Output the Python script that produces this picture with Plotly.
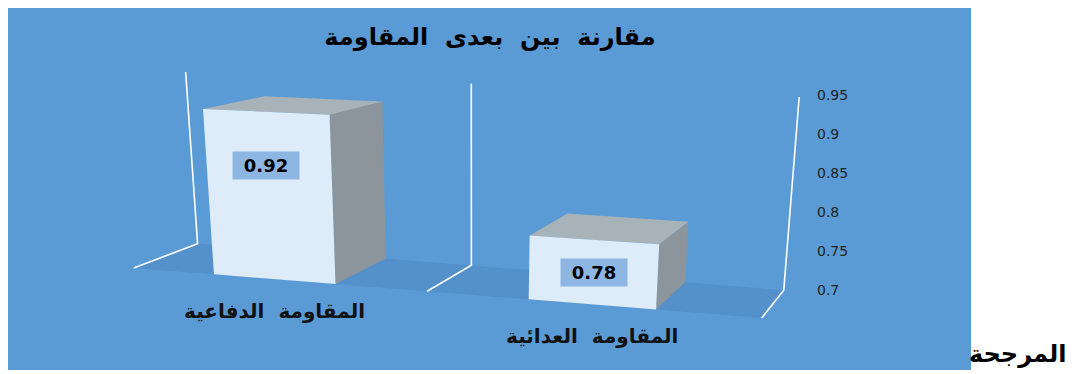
import plotly.graph_objects as go

# ---------------- data ----------------
categories = ["المقاومة الدفاعية", "المقاومة العدائية"]
values = [0.92, 0.78]
tick_values = [0.7, 0.75, 0.8, 0.85, 0.9, 0.95]
title_text = "مقارنة بين بعدى المقاومة"
side_note = "المرجحة"

# ---------------- style / perspective constants ----------------
AXIS_MIN, AXIS_MAX = 0.7, 0.95
X_RANGE = [-0.8418, 1.6646]
Y_RANGE = [0.59744, 1.06154]
FLOOR_Y0, FLOOR_SLOPE = 0.71395, -0.03241
G0, G1 = 0.975, 0.06
VP = (2.4114, 1.1597)
DEPTH = 0.072
KV, XC = 0.2, 0.62
BAR_W = 0.39
BOUNDS = [-0.44, 0.478, 1.538]

BG = "#5B9BD5"
FLOOR = "#5490C9"
FRONT = "#DEEBF8"
TOP = "#A8B2B9"
SIDE = "#8C959C"
LABEL_BG = "#8DB6E3"
FONT = "DejaVu Sans"
NB = "\u00a0"


def spaced(s, n=2):
    return s.replace(" ", NB * n)


def base(x):
    return FLOOR_Y0 + FLOOR_SLOPE * x


def g(x):
    return G0 + G1 * x


def proj(x, v, d):
    X = x
    Y = base(x) + g(x) * (v - AXIS_MIN)
    X += d * DEPTH * (VP[0] - X)
    Y += d * DEPTH * (VP[1] - Y)
    X += KV * (X - XC) * (Y - AXIS_MIN)
    return X, Y


def poly(points, color):
    xs = [p[0] for p in points] + [points[0][0]]
    ys = [p[1] for p in points] + [points[0][1]]
    return go.Scatter(x=xs, y=ys, mode="lines", fill="toself", fillcolor=color,
                      line=dict(width=0, color=color), hoverinfo="skip", showlegend=False)


fig = go.Figure()

# floor
fig.add_trace(poly([proj(BOUNDS[0], AXIS_MIN, 0), proj(BOUNDS[-1], AXIS_MIN, 0),
                    proj(BOUNDS[-1], AXIS_MIN, 1), proj(BOUNDS[0], AXIS_MIN, 1)], FLOOR))

# wall / depth lines
for b in BOUNDS:
    pts = [proj(b, AXIS_MIN, 0), proj(b, AXIS_MIN, 1), proj(b, AXIS_MAX, 1)]
    fig.add_trace(go.Scatter(x=[p[0] for p in pts], y=[p[1] for p in pts], mode="lines",
                             line=dict(color="white", width=1.6), hoverinfo="skip",
                             showlegend=False))

annotations = []
for i, (cat, v) in enumerate(zip(categories, values)):
    c = float(i)
    hw = BAR_W * g(c) / 2
    xl, xr = c - hw, c + hw
    fig.add_trace(poly([proj(xr, AXIS_MIN, 0), proj(xr, AXIS_MIN, 1),
                        proj(xr, v, 1), proj(xr, v, 0)], SIDE))
    fig.add_trace(poly([proj(xl, v, 0), proj(xr, v, 0),
                        proj(xr, v, 1), proj(xl, v, 1)], TOP))
    fig.add_trace(poly([proj(xl, AXIS_MIN, 0), proj(xr, AXIS_MIN, 0),
                        proj(xr, v, 0), proj(xl, v, 0)], FRONT))
    bottom = proj(c, AXIS_MIN, 0)
    top = proj(c, v, 0)
    ly = max((bottom[1] + top[1]) / 2, top[1] - 0.0685)
    annotations.append(dict(x=top[0], y=ly, xref="x", yref="y", text=f"{v:.2f}",
                            showarrow=False, bgcolor=LABEL_BG, width=64, height=25,
                            font=dict(family=FONT, size=18, color="black", weight="bold")))
    annotations.append(dict(x=bottom[0], y=base(c) - 0.041, xref="x", yref="y",
                            text=spaced(cat), showarrow=False,
                            font=dict(family=FONT, size=20, color="#111111", weight="bold")))

annotations.append(dict(x=1.3317, y=0.045, xref="paper", yref="paper", xanchor="right",
                        yanchor="middle", text=side_note, showarrow=False,
                        font=dict(family=FONT, size=24, color="black", weight="bold")))

fig.update_layout(
    width=1065, height=366,
    margin=dict(l=0, r=269, t=0, b=4),
    paper_bgcolor="white",
    plot_bgcolor=BG,
    showlegend=False,
    title=dict(text=spaced(title_text), x=0.4526, y=0.921, xanchor="center", yanchor="middle",
               font=dict(family=FONT, size=24, color="black", weight="bold")),
    xaxis=dict(range=X_RANGE, visible=False, fixedrange=True),
    yaxis=dict(range=Y_RANGE, side="right", tickvals=tick_values,
               ticktext=[f"{t:g}" for t in tick_values], showgrid=False,
               zeroline=False, showline=False, ticks="", ticklabelstandoff=12,
               tickfont=dict(family=FONT, size=14, color="#222222"), fixedrange=True),
    shapes=[dict(type="rect", xref="paper", yref="paper", x0=0, x1=1.2098, y0=0, y1=1,
                 fillcolor=BG, line=dict(width=0), layer="below")],
    annotations=annotations,
)

fig.write_html("out.html")
